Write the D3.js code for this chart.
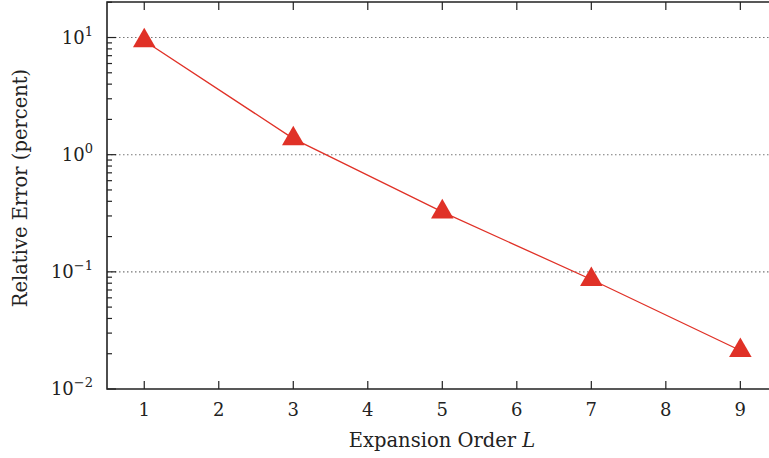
<!DOCTYPE html>
<html>
<head>
<meta charset="utf-8">
<script src="https://cdn.jsdelivr.net/npm/d3@7"></script>
<style>
  body { margin: 0; background: #fff; }
  svg { display: block; }
  text { font-family: "DejaVu Serif", "Liberation Serif", serif; fill: #222; }
</style>
</head>
<body>
<div id="chart"></div>
<script>
// expansion order vs relative error (percent)
const orders = [1, 3, 5, 7, 9];
const relError = [9.4, 1.37, 0.325, 0.086, 0.0213];
const xTicks = [1, 2, 3, 4, 5, 6, 7, 8, 9];
const yMajor = [-2, -1, 0, 1]; // exponents of ten

const width = 769, height = 458;
const margin = {left: 107, top: 2, bottom: 69};
const plotRight = 777.6; // frame runs past the window edge

const svg = d3.select("#chart").append("svg")
  .attr("width", width)
  .attr("height", height);

const x = d3.scaleLinear().domain([0.5, 9.5]).range([margin.left, plotRight]);
const y = d3.scaleLog().domain([0.01, 20.1]).range([height - margin.bottom, margin.top]);

const bottomY = y.range()[0], topY = y.range()[1];

// dotted grid at decades
svg.selectAll(".grid")
  .data(yMajor.filter((e) => e > -2)).enter()
  .append("line")
  .attr("class", "grid")
  .attr("x1", margin.left)
  .attr("x2", plotRight)
  .attr("y1", (d) => y(Math.pow(10, d)))
  .attr("y2", (d) => y(Math.pow(10, d)))
  .attr("stroke", "#777")
  .attr("stroke-width", 1.1)
  .attr("stroke-dasharray", "1.5,2.5");

// minor ticks on y
let minors = [];
for(let e = -2; e <= 1; e++) {
  for(let m = 2; m <= 9; m++) {
    const v = m * Math.pow(10, e);
    if(v <= y.domain()[1]) minors.push(v);
  }
}
svg.selectAll(".ytickMinor")
  .data(minors).enter()
  .append("line")
  .attr("x1", margin.left)
  .attr("x2", margin.left + 5)
  .attr("y1", (d) => y(d))
  .attr("y2", (d) => y(d))
  .attr("stroke", "#222")
  .attr("stroke-width", 1.2);

svg.selectAll(".ytickMajor")
  .data(yMajor).enter()
  .append("line")
  .attr("x1", margin.left)
  .attr("x2", margin.left + 9)
  .attr("y1", (d) => y(Math.pow(10, d)))
  .attr("y2", (d) => y(Math.pow(10, d)))
  .attr("stroke", "#222")
  .attr("stroke-width", 1.2);

// x ticks, bottom and top
svg.selectAll(".xtick")
  .data(xTicks).enter()
  .append("line")
  .attr("x1", (d) => x(d))
  .attr("x2", (d) => x(d))
  .attr("y1", bottomY)
  .attr("y2", bottomY - 8)
  .attr("stroke", "#222")
  .attr("stroke-width", 1.2);

svg.selectAll(".xtickTop")
  .data(xTicks).enter()
  .append("line")
  .attr("x1", (d) => x(d))
  .attr("x2", (d) => x(d))
  .attr("y1", topY)
  .attr("y2", topY + 8)
  .attr("stroke", "#222")
  .attr("stroke-width", 1.2);

// frame
svg.append("path")
  .attr("d", `M${plotRight},${topY}H${margin.left}V${bottomY}H${plotRight}`)
  .attr("fill", "none")
  .attr("stroke", "#222")
  .attr("stroke-width", 1.6);

// tick labels
svg.selectAll(".xlabel")
  .data(xTicks).enter()
  .append("text")
  .attr("x", (d) => x(d))
  .attr("y", bottomY + 27)
  .attr("text-anchor", "middle")
  .style("font-size", "18px")
  .text((d) => d);

const yl = svg.selectAll(".ylabel")
  .data(yMajor).enter()
  .append("text")
  .attr("x", 93)
  .attr("y", (d) => y(Math.pow(10, d)) + 6)
  .attr("text-anchor", "end")
  .style("font-size", "18px");
yl.append("tspan").text("10");
yl.append("tspan")
  .attr("dy", -8)
  .style("font-size", "13px")
  .text((d) => d < 0 ? "\u2212" + Math.abs(d) : d);

// axis titles
const xt = svg.append("text")
  .attr("x", 442)
  .attr("y", bottomY + 58)
  .attr("text-anchor", "middle")
  .style("font-size", "19.5px");
xt.append("tspan").text("Expansion Order ");
xt.append("tspan").style("font-style", "italic").text("L");

svg.append("text")
  .attr("transform", `translate(27,188) rotate(-90)`)
  .attr("text-anchor", "middle")
  .style("font-size", "19.5px")
  .text("Relative Error (percent)");

// series
const line = d3.line()
  .x((d, i) => x(orders[i]))
  .y((d) => y(d));

svg.append("path")
  .datum(relError)
  .attr("d", line)
  .attr("fill", "none")
  .attr("stroke", "#e03127")
  .attr("stroke-width", 1.3);

svg.selectAll(".marker")
  .data(relError).enter()
  .append("path")
  .attr("class", "marker")
  .attr("d", d3.symbol().type(d3.symbolTriangle).size(220))
  .attr("transform", (d, i) => `translate(${x(orders[i])},${y(d)})`)
  .attr("fill", "#e03127");
</script>
</body>
</html>
